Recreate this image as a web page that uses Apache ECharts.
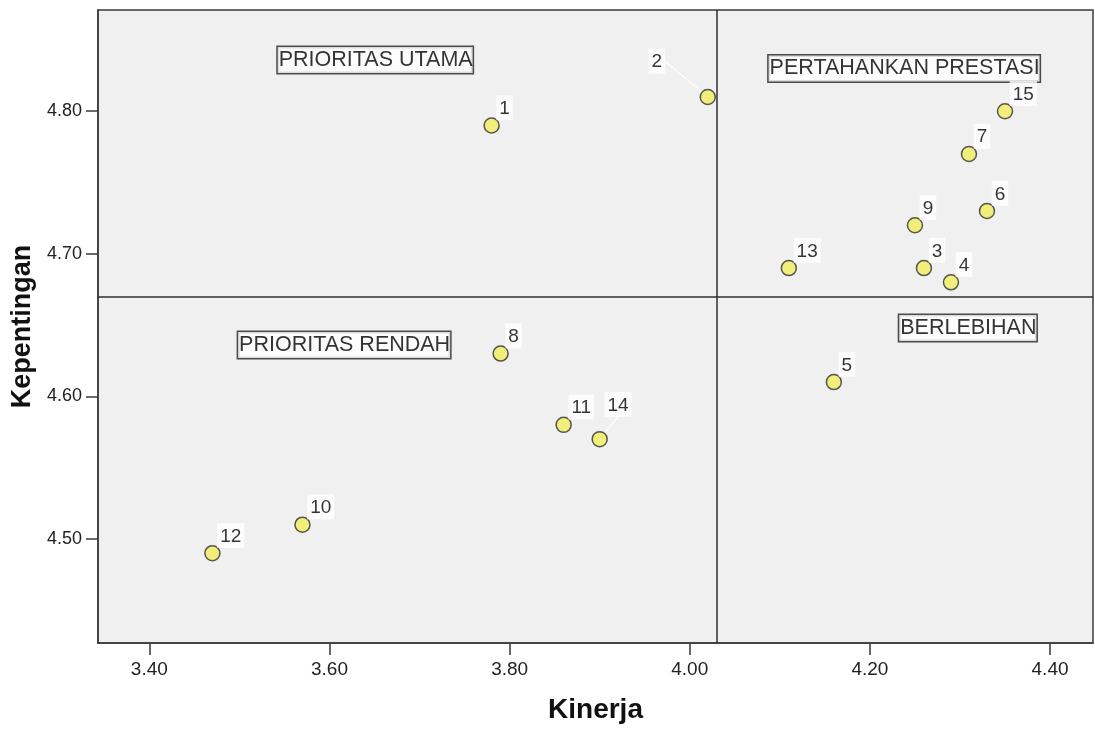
<!DOCTYPE html>
<html>
<head>
<meta charset="utf-8">
<script src="https://cdn.jsdelivr.net/npm/echarts@6/dist/echarts.min.js"></script>
<style>html,body{margin:0;padding:0;background:#fff}#c{width:1095px;height:729px}</style>
</head>
<body>
<div id="c"></div>
<script>
// Point identifiers
const ids = ['1','2','3','4','5','6','7','8','9','10','11','12','13','14','15'];
// Kinerja (x) values
const kinerja = [3.78, 4.02, 4.26, 4.29, 4.16, 4.33, 4.31, 3.79, 4.25, 3.57, 3.86, 3.47, 4.11, 3.90, 4.35];
// Kepentingan (y) values
const kepentingan = [4.79, 4.81, 4.69, 4.68, 4.61, 4.73, 4.77, 4.63, 4.72, 4.51, 4.58, 4.49, 4.69, 4.57, 4.80];
// Reference (mean) lines
const xCut = 4.03;
const yCut = 4.67;
// Tick labels
const xTicks = [3.40, 3.60, 3.80, 4.00, 4.20, 4.40];
const yTicks = [4.50, 4.60, 4.70, 4.80];
// Quadrant labels: text, left-edge x, centre y (data units)
const quadNames = ['PRIORITAS UTAMA', 'PERTAHANKAN PRESTASI', 'BERLEBIHAN', 'PRIORITAS RENDAH'];
const quadX = [3.542, 4.087, 4.232, 3.498];
const quadY = [4.836, 4.830, 4.648, 4.636];

const FONT = '"Liberation Sans", Arial, sans-serif';
const moved = { '2': { dx: -64, dy: -18 }, '14': { dx: 0, dy: -17 } };

const pointData = ids.map((id, i) => {
  const item = { name: id, value: [kinerja[i], kepentingan[i]] };
  if (moved[id]) item.labelLine = { show: true, lineStyle: { color: '#ffffff', width: 1.2 } };
  return item;
});

const quadData = quadNames.map((n, i) => ({ name: n, value: [quadX[i], quadY[i]] }));

const chart = echarts.init(document.getElementById('c'), null, { renderer: 'canvas' });
chart.setOption({
  animation: false,
  backgroundColor: '#ffffff',
  grid: {
    left: 98, right: 2, top: 10, bottom: 85,
    show: true, backgroundColor: '#f0f0f0', borderColor: '#3a3a3a', borderWidth: 1.5
  },
  xAxis: {
    type: 'value', min: 3.343, max: 4.4477,
    name: 'Kinerja', nameLocation: 'middle', nameGap: 53,
    nameTextStyle: { fontFamily: FONT, fontSize: 28, fontWeight: 'bold', color: '#111' },
    axisLine: { show: true, lineStyle: { color: '#3a3a3a', width: 1.5 } },
    axisTick: { show: true, length: 12, customValues: xTicks, lineStyle: { color: '#3a3a3a', width: 1.5 } },
    axisLabel: { customValues: xTicks, formatter: v => v.toFixed(2), fontFamily: FONT, fontSize: 19, color: '#222', margin: 17 },
    splitLine: { show: false }
  },
  yAxis: {
    type: 'value', min: 4.427, max: 4.871,
    name: 'Kepentingan', nameLocation: 'middle', nameGap: 60,
    nameTextStyle: { fontFamily: FONT, fontSize: 27, fontWeight: 'bold', color: '#111' },
    axisLine: { show: true, lineStyle: { color: '#3a3a3a', width: 1.5 } },
    axisTick: { show: true, length: 12, customValues: yTicks, lineStyle: { color: '#3a3a3a', width: 1.5 } },
    axisLabel: { customValues: yTicks, formatter: v => v.toFixed(2), fontFamily: FONT, fontSize: 18, color: '#222', margin: 16 },
    splitLine: { show: false }
  },
  series: [
    {
      type: 'scatter',
      data: quadData,
      symbol: 'rect', symbolSize: 1,
      itemStyle: { color: '#f0f0f0' },
      silent: true, z: 3,
      label: {
        show: true, position: 'right', distance: 0,
        formatter: p => p.name,
        fontFamily: FONT, fontSize: 21.5, color: '#000',
        backgroundColor: '#ffffff', borderColor: '#222', borderWidth: 1.5,
        padding: [3, 0, 1, 1], lineHeight: 22
      }
    },
    {
      type: 'scatter',
      data: pointData,
      symbol: 'circle', symbolSize: 15,
      z: 5,
      itemStyle: { color: '#f2ee5e', borderColor: '#2e2e2e', borderWidth: 1.5 },
      label: {
        show: true, formatter: p => p.name,
        position: [13, 3], align: 'left', verticalAlign: 'bottom',
        fontFamily: FONT, fontSize: 19, color: '#000',
        backgroundColor: '#ffffff', padding: [4, 3, 2, 3]
      },
      labelLayout: p => {
        const id = ids[p.dataIndex];
        return moved[id] ? { dx: moved[id].dx, dy: moved[id].dy } : {};
      },
      markLine: {
        silent: true, symbol: 'none', animation: false,
        label: { show: false },
        lineStyle: { color: '#2e2e2e', width: 1.5, type: 'solid' },
        data: [{ xAxis: xCut }, { yAxis: yCut }]
      }
    }
  ]
});
</script>
</body>
</html>
